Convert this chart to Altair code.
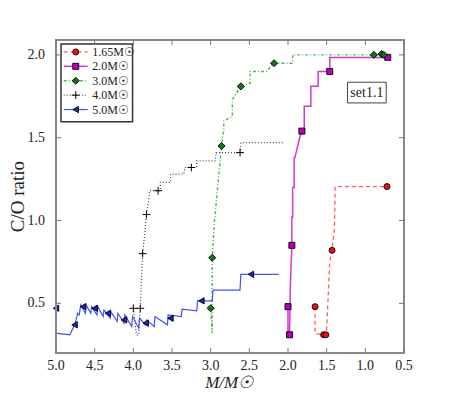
import altair as alt
import pandas as pd

# ---------------- data ----------------
series_names = ["1.65M☉", "2.0M☉", "3.0M☉", "4.0M☉", "5.0M☉"]

# 1.65 Msun track
m165_x = [1.65, 1.65, 1.57, 1.54, 1.51, 1.50, 1.46, 1.43, 1.40, 1.39, 0.72]
m165_y = [0.48, 0.32, 0.31, 0.31, 0.31, 0.35, 0.75, 0.82, 0.95, 1.205, 1.205]
m165_mx = [1.65, 1.54, 1.51, 1.43, 0.72]
m165_my = [0.48, 0.31, 0.31, 0.82, 1.205]

# 2.0 Msun track
m20_x = [2.0, 2.0, 1.98, 1.97, 1.95, 1.95, 1.94, 1.94, 1.92, 1.92, 1.91, 1.85, 1.82,
         1.79, 1.79, 1.705, 1.705, 1.61, 1.61, 1.46, 1.46, 0.71]
m20_y = [0.48, 0.31, 0.31, 0.60, 0.85, 1.02, 1.02, 1.20, 1.20, 1.38, 1.38, 1.50, 1.54,
         1.54, 1.69, 1.69, 1.81, 1.81, 1.90, 1.90, 1.985, 1.985]
m20_mx = [2.0, 1.98, 1.95, 1.82, 1.46, 0.71]
m20_my = [0.48, 0.31, 0.85, 1.54, 1.90, 1.985]

# 3.0 Msun track
m30_x = [3.0, 2.98, 2.98, 2.95, 2.90, 2.86, 2.83, 2.83, 2.72, 2.72, 2.61, 2.49, 2.49,
         2.28, 2.18, 1.94, 1.94, 0.89, 0.79, 0.76]
m30_y = [0.47, 0.32, 0.775, 1.00, 1.25, 1.45, 1.55, 1.60, 1.63, 1.73, 1.81, 1.83, 1.90,
         1.90, 1.95, 1.95, 2.00, 2.00, 2.005, 2.00]
m30_mx = [3.0, 2.98, 2.86, 2.61, 2.18, 0.89, 0.79, 0.76]
m30_my = [0.47, 0.775, 1.45, 1.81, 1.95, 2.00, 2.005, 2.00]

# 4.0 Msun track
m40_x = [4.0, 3.96, 3.93, 3.91, 3.88, 3.85, 3.83, 3.80, 3.79, 3.68, 3.65, 3.65, 3.52,
         3.52, 3.35, 3.33, 3.25, 3.18, 3.18, 2.94, 2.93, 2.62, 2.61, 2.06]
m40_y = [0.47, 0.31, 0.31, 0.47, 0.80, 0.93, 1.036, 1.12, 1.18, 1.18, 1.18, 1.23, 1.23,
         1.28, 1.28, 1.32, 1.32, 1.32, 1.36, 1.36, 1.41, 1.41, 1.47, 1.47]
m40_mx = [4.0, 3.91, 3.88, 3.83, 3.68, 3.25, 2.62]
m40_my = [0.47, 0.47, 0.80, 1.036, 1.18, 1.32, 1.41]

# 5.0 Msun track
m50_x = [5.0, 5.0, 4.82, 4.80, 4.76, 4.74, 4.72, 4.70, 4.68, 4.62, 4.61, 4.55, 4.54,
         4.47, 4.46, 4.39, 4.38, 4.30, 4.29, 4.21, 4.20, 4.12, 4.11, 4.02, 4.01, 3.93,
         3.92, 3.84, 3.83, 3.73, 3.72, 3.56, 3.55, 3.38, 3.37, 3.18, 3.17, 2.98, 2.97,
         2.62, 2.61, 2.12]
m50_y = [0.47, 0.32, 0.31, 0.33, 0.37, 0.40, 0.44, 0.43, 0.49, 0.44, 0.49, 0.44, 0.48,
         0.43, 0.48, 0.42, 0.46, 0.41, 0.45, 0.39, 0.44, 0.38, 0.43, 0.36, 0.42, 0.35,
         0.41, 0.37, 0.40, 0.36, 0.42, 0.37, 0.43, 0.42, 0.465, 0.455, 0.515, 0.515, 0.58,
         0.58, 0.675, 0.675]
m50_mx = [5.0, 4.76, 4.65, 4.50, 4.33, 4.12, 3.84, 3.52, 3.12, 2.48]
m50_my = [0.47, 0.37, 0.48, 0.47, 0.44, 0.40, 0.38, 0.41, 0.515, 0.675]

x_ticks = [5.0, 4.5, 4.0, 3.5, 3.0, 2.5, 2.0, 1.5, 1.0, 0.5]
y_ticks = [0.5, 1.0, 1.5, 2.0]
x_title = "M/M☉"
y_title = "C/O ratio"
annotation = "set1.1"

# ---------------- styles ----------------
FONT = "Liberation Serif"
X_DOM = [0.5, 5.0]
Y_DOM = [0.2, 2.09]
W, H = 348, 313

line_colors = ["#ff4d4d", "#cc22cc", "#44aa44", "#333333", "#2f3fff"]
line_dash = [[4, 3], [], [3, 2, 1, 2], [1, 2], []]
line_width = [1.3, 1.5, 1.4, 1.2, 1.2]
mark_fill = ["#ee1111", "#bb00bb", "#117711", "#000000", "#2222bb"]
mark_shape = ["circle", "square", "diamond", "M-1,0H1M0,-1V1", "triangle-left"]
mark_size = [36, 36, 50, 60, 40]

xs = alt.Scale(domain=X_DOM, reverse=True, nice=False, zero=False)
ys = alt.Scale(domain=Y_DOM, nice=False, zero=False)
X = lambda f: alt.X(f, type="quantitative", scale=xs, axis=None)
Y = lambda f: alt.Y(f, type="quantitative", scale=ys, axis=None)

tracks = [(m165_x, m165_y), (m20_x, m20_y), (m30_x, m30_y), (m40_x, m40_y), (m50_x, m50_y)]
marks = [(m165_mx, m165_my), (m20_mx, m20_my), (m30_mx, m30_my), (m40_mx, m40_my), (m50_mx, m50_my)]


def point_mark(i):
    if i == 3:
        return dict(shape=mark_shape[i], filled=False, stroke="#000000", strokeWidth=1,
                    size=mark_size[i], opacity=1)
    return dict(shape=mark_shape[i], filled=True, fill=mark_fill[i], stroke="#000000",
                strokeWidth=0.9, size=mark_size[i], opacity=1)


layers = []
for i, name in enumerate(series_names):
    tx, ty = tracks[i]
    df = pd.DataFrame({"M": tx, "CO": ty, "o": list(range(len(tx)))})
    lkw = dict(color=line_colors[i], strokeWidth=line_width[i], opacity=0.9)
    if line_dash[i]:
        lkw["strokeDash"] = line_dash[i]
    layers.append(alt.Chart(df).mark_line(**lkw).encode(x=X("M"), y=Y("CO"), order="o:Q"))
for i, name in enumerate(series_names):
    mx, my = marks[i]
    dfp = pd.DataFrame({"M": mx, "CO": my})
    layers.append(alt.Chart(dfp).mark_point(**point_mark(i)).encode(x=X("M"), y=Y("CO")))

# ---------------- legend (inside plot, upper left) ----------------
leg_top = 2.018
leg_step = 0.087
leg_rows = [leg_top - k * leg_step for k in range(len(series_names))]
leg_box = pd.DataFrame({"x": [4.935], "x2": [4.01], "y": [1.596], "y2": [2.066]})
layers.append(alt.Chart(leg_box).mark_rect(fill="white", stroke="#333333", strokeWidth=1.5).encode(
    x=X("x"), x2="x2:Q", y=Y("y"), y2="y2:Q"))
for i, name in enumerate(series_names):
    seg = pd.DataFrame({"M": [4.90, 4.59], "CO": [leg_rows[i]] * 2})
    lkw = dict(color=line_colors[i], strokeWidth=line_width[i], opacity=0.9)
    if line_dash[i]:
        lkw["strokeDash"] = line_dash[i]
    layers.append(alt.Chart(seg).mark_line(**lkw).encode(x=X("M"), y=Y("CO")))
    layers.append(alt.Chart(pd.DataFrame({"M": [4.745], "CO": [leg_rows[i]]})).mark_point(
        **point_mark(i)).encode(x=X("M"), y=Y("CO")))
leg_txt = pd.DataFrame({"M": [4.53] * len(series_names), "CO": leg_rows, "t": series_names})
layers.append(alt.Chart(leg_txt).mark_text(font=FONT, fontSize=12, align="left", baseline="middle",
                                           color="#222222").encode(x=X("M"), y=Y("CO"), text="t:N"))

# ---------------- annotation box ----------------
ann = pd.DataFrame({"x": [1.23], "x2": [0.73], "y": [1.71], "y2": [1.835],
                    "tx": [0.98], "ty": [1.772], "label": [annotation]})
layers.append(alt.Chart(ann).mark_rect(fill="white", stroke="#444444", strokeWidth=1).encode(
    x=X("x"), x2="x2:Q", y=Y("y"), y2="y2:Q"))
layers.append(alt.Chart(ann).mark_text(font=FONT, fontSize=14, color="#222222").encode(
    x=X("tx"), y=Y("ty"), text="label:N"))

# ---------------- frame, ticks, tick labels, titles ----------------
frame = pd.DataFrame({"x": [X_DOM[0]], "x2": [X_DOM[1]], "y": [Y_DOM[0]], "y2": [Y_DOM[1]]})
layers.append(alt.Chart(frame).mark_rect(fillOpacity=0, stroke="#888888", strokeWidth=2).encode(
    x=X("x"), x2="x2:Q", y=Y("y"), y2="y2:Q"))

tx_len = 5.0 / H * (Y_DOM[1] - Y_DOM[0])
ty_len = 5.0 / W * (X_DOM[1] - X_DOM[0])
xt = pd.DataFrame({"v": x_ticks})
yt = pd.DataFrame({"v": y_ticks})
tick_style = dict(color="#777777", strokeWidth=1)
layers.append(alt.Chart(xt).mark_rule(**tick_style).encode(
    x=X("v"), y=alt.YDatum(Y_DOM[0], scale=ys, axis=None), y2=alt.Y2Datum(Y_DOM[0] + tx_len)))
layers.append(alt.Chart(xt).mark_rule(**tick_style).encode(
    x=X("v"), y=alt.YDatum(Y_DOM[1], scale=ys, axis=None), y2=alt.Y2Datum(Y_DOM[1] - tx_len)))
layers.append(alt.Chart(yt).mark_rule(**tick_style).encode(
    y=Y("v"), x=alt.XDatum(X_DOM[1], scale=xs, axis=None), x2=alt.X2Datum(X_DOM[1] - ty_len)))
layers.append(alt.Chart(yt).mark_rule(**tick_style).encode(
    y=Y("v"), x=alt.XDatum(X_DOM[0], scale=xs, axis=None), x2=alt.X2Datum(X_DOM[0] + ty_len)))

layers.append(alt.Chart(xt).transform_calculate(lab="format(datum.v, '.1f')").mark_text(
    font=FONT, fontSize=14, color="#222222", baseline="alphabetic", dy=17).encode(
    x=X("v"), y=alt.YDatum(Y_DOM[0], scale=ys, axis=None), text="lab:N"))
layers.append(alt.Chart(yt).transform_calculate(lab="format(datum.v, '.1f')").mark_text(
    font=FONT, fontSize=14, color="#222222", align="right", baseline="middle", dx=-11).encode(
    y=Y("v"), x=alt.XDatum(X_DOM[1], scale=xs, axis=None), text="lab:N"))

titles = pd.DataFrame({"M": [2.76], "CO": [-0.01], "t": [x_title]})
layers.append(alt.Chart(titles).mark_text(font=FONT, fontSize=17, fontStyle="italic", color="#222222",
                                          baseline="alphabetic").encode(x=X("M"), y=Y("CO"), text="t:N"))
ytitle = pd.DataFrame({"M": [5.49], "CO": [1.145], "t": [y_title]})
layers.append(alt.Chart(ytitle).mark_text(font=FONT, fontSize=19, angle=270, color="#222222",
                                          baseline="middle").encode(x=X("M"), y=Y("CO"), text="t:N"))

chart = alt.layer(*layers).properties(
    width=W, height=H,
    autosize=alt.AutoSizeParams(type="none"),
    padding={"left": 48, "top": 32, "right": 37, "bottom": 39},
).configure_view(stroke=None)

chart.save("out.html", embed_options={"renderer": "svg", "actions": False})
